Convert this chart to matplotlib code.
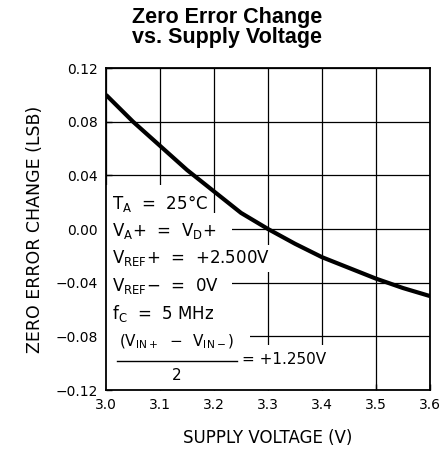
import matplotlib
matplotlib.use('Agg')
import matplotlib.pyplot as plt
import numpy as np

# curve
supply_v = [3.0, 3.05, 3.1, 3.15, 3.2, 3.25, 3.3, 3.35, 3.4, 3.45, 3.5, 3.55, 3.6]
zero_err = [0.100, 0.080, 0.062, 0.044, 0.028, 0.012, 0.0, -0.011, -0.021, -0.029, -0.037, -0.044, -0.050]

x_ticks = [3.0, 3.1, 3.2, 3.3, 3.4, 3.5, 3.6]
y_ticks = [-0.12, -0.08, -0.04, 0.00, 0.04, 0.08, 0.12]

cond_lines = [r'$\mathregular{T_A}$  =  25°C',
              r'$\mathregular{V_A}$+  =  $\mathregular{V_D}$+',
              r'$\mathregular{V_{REF}}$+  =  +2.500V',
              r'$\mathregular{V_{REF}}$$-$  =  0V',
              r'$\mathregular{f_C}$  =  5 MHz']

plt.rcParams['font.family'] = 'DejaVu Sans'

fig = plt.figure(figsize=(4.46, 4.62), dpi=100)
ax = fig.add_axes([0.2377, 0.1558, 0.7265, 0.697])

ax.plot(supply_v, zero_err, color='black', lw=3, zorder=5,
        solid_capstyle='butt', solid_joinstyle='round')

ax.set_xlim(3.0, 3.6)
ax.set_ylim(-0.12, 0.12)
ax.set_xticks(x_ticks)
ax.set_yticks(y_ticks)
ax.set_xticklabels(['%.1f' % v for v in x_ticks])
ax.set_yticklabels([('%.2f' % v).replace('-', '\u2212') for v in y_ticks])
ax.tick_params(direction='in', length=4, width=1, labelsize=10, pad=6)
ax.grid(True, color='black', lw=0.9)
ax.set_axisbelow(True)
for s in ax.spines.values():
    s.set_linewidth(1.3)

ax.set_xlabel('SUPPLY VOLTAGE (V)', fontsize=12, labelpad=12)
ax.set_ylabel('ZERO ERROR CHANGE (LSB)', fontsize=12.5, labelpad=8)

fig.text(0.51, 0.985, 'Zero Error Change\nvs. Supply Voltage', ha='center', va='top',
         fontsize=15.5, fontweight='bold', family='Liberation Sans', linespacing=0.95)

# white area behind the conditions block, hides the grid there
def blank(x0, x1, y0, y1):
    ax.add_patch(plt.Rectangle((x0, y0), x1 - x0, y1 - y0, facecolor='white',
                               edgecolor='none', zorder=2))

blank(3.0, 3.196, 0.0122, 0.0331)
blank(3.0, 3.233, -0.12, 0.0122)
blank(3.233, 3.315, -0.0318, -0.0116)
blank(3.233, 3.267, -0.0862, -0.0713)
blank(3.233, 3.415, -0.12, -0.0862)

y0 = 0.019
for i, txt in enumerate(cond_lines):
    ax.text(3.012, y0 - i * 0.0204, txt, fontsize=12, va='center', ha='left', zorder=3)

ax.text(3.13, -0.0838, r'($\mathregular{V_{IN+}}$  $-$  $\mathregular{V_{IN-}}$)',
        fontsize=11, va='center', ha='center', zorder=3)
ax.plot([3.02, 3.242], [-0.0985, -0.0985], color='black', lw=1, zorder=3)
ax.text(3.13, -0.1095, '2', fontsize=11, va='center', ha='center', zorder=3)
ax.text(3.252, -0.0975, '= +1.250V', fontsize=11, va='center', ha='left', zorder=3)

fig.savefig('out.png', dpi=100)
